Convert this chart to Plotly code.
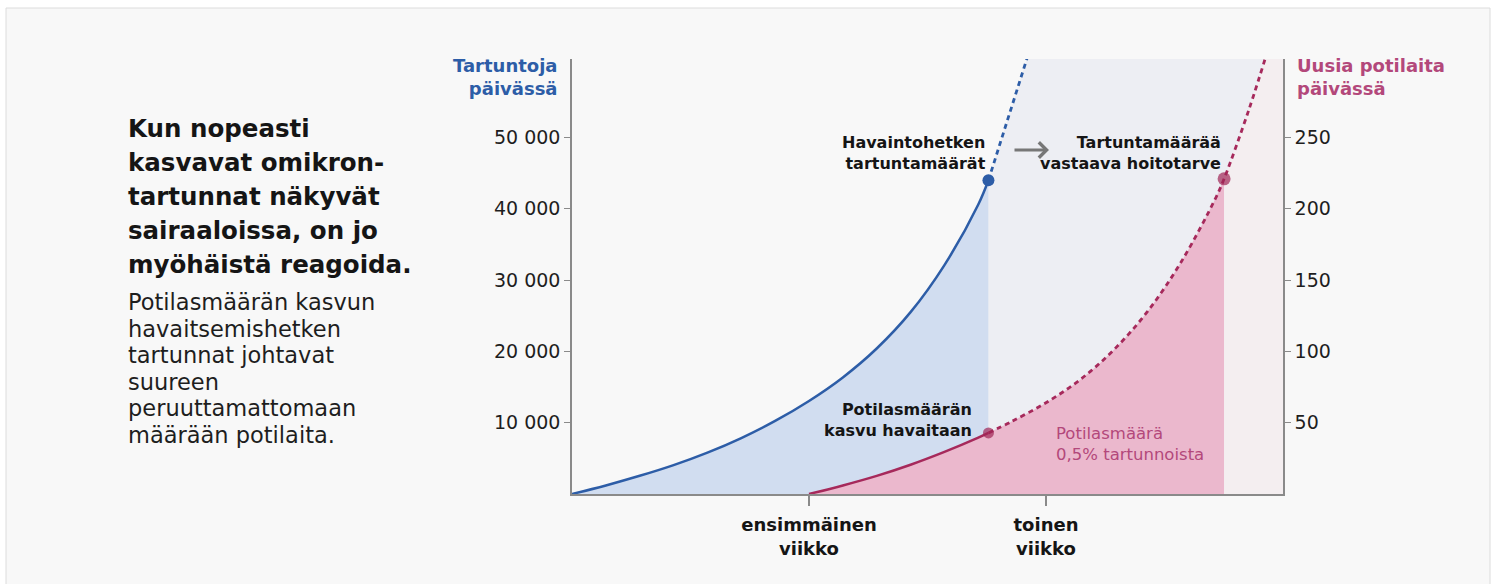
import plotly.graph_objects as go

# ---------------- data ----------------
blue_days = [0, 1, 2, 3, 4, 5, 6, 7, 8, 9, 10, 11, 12, 12.3]
blue_vals = [0, 1200, 2550, 4050, 5800, 7850, 10250, 13050, 16350, 20400, 25500, 32100, 40600, 44000]
blue_dash_days = [12.3, 13, 13.7]
blue_dash_vals = [44000, 54500, 65000]

red_days = [7, 8, 9, 10, 11, 12, 12.3]
red_vals = [0, 6, 12.7, 20.5, 29.5, 39.5, 42.8]
red_dash_days = [12.3, 13, 14, 15, 16, 17, 18, 19, 19.26, 20, 20.6]
red_dash_vals = [42.8, 51, 64, 80, 101, 128, 163, 207, 221, 270, 315]

x_tickvals = [7, 14]
x_ticktext = ["ensimmäinen<br>viikko", "toinen<br>viikko"]
left_tickvals = [10000, 20000, 30000, 40000, 50000]
left_ticktext = ["10 000", "20 000", "30 000", "40 000", "50 000"]
right_tickvals = [50, 100, 150, 200, 250]
right_ticktext = ["50", "100", "150", "200", "250"]

title_lines = ["Kun nopeasti", "kasvavat omikron-", "tartunnat näkyvät",
               "sairaaloissa, on jo", "myöhäistä reagoida."]
body_lines = ["Potilasmäärän kasvun", "havaitsemishetken", "tartunnat johtavat",
              "suureen", "peruuttamattomaan", "määrään potilaita."]

# ---------------- style ----------------
FONT = "DejaVu Sans"
BLUE = "#2d5da7"
BLUE_FILL = "#d1ddf0"
RED = "#a6295b"
RED_MARK = "#9f2555"
PINK_FILL = "#ebb8cd"
PINK_TEXT = "#b3487b"
GRAY_REGION = "#edeef3"
LIGHT_PINK = "#f4eef0"
AXIS = "#8a8a8a"
TXT = "#151515"

Y_MAX = 61000
Y2_MAX = 305
X_MAX = 21

L, R, T, B = 572, 1283, 59, 494


def px(x):
    return (x - L) / (R - L)


def py(y):
    return (B - y) / (B - T)


fig = go.Figure()

# gray region to the right of the infection curve (after detection)
gx = [blue_dash_days[0]] + blue_dash_days + [X_MAX, X_MAX]
gy = [0] + blue_dash_vals + [blue_dash_vals[-1], 0]
fig.add_trace(go.Scatter(x=gx, y=gy, mode="lines", fill="toself",
                         fillcolor=GRAY_REGION, line=dict(width=0),
                         hoverinfo="skip", showlegend=False))

# blue area + line
fig.add_trace(go.Scatter(x=blue_days, y=blue_vals, mode="lines",
                         line=dict(color=BLUE, width=2.5, shape="spline", smoothing=1),
                         fill="tozeroy", fillcolor=BLUE_FILL,
                         hoverinfo="skip", showlegend=False))
fig.add_trace(go.Scatter(x=blue_dash_days, y=blue_dash_vals, mode="lines",
                         line=dict(color=BLUE, width=2.8, dash="5px,4px"),
                         hoverinfo="skip", showlegend=False))
fig.add_trace(go.Scatter(x=[blue_days[-1]], y=[blue_vals[-1]], mode="markers",
                         marker=dict(color=BLUE, size=12, line=dict(width=0)),
                         cliponaxis=False, hoverinfo="skip", showlegend=False))

# red (patients) on right axis
i_end = red_dash_days.index(19.26)
pk_x = red_days + red_dash_days[1:i_end + 1]
pk_y = red_vals + red_dash_vals[1:i_end + 1]
fig.add_trace(go.Scatter(x=pk_x, y=pk_y, mode="lines", yaxis="y2",
                         line=dict(width=0, shape="spline", smoothing=1),
                         fill="tozeroy", fillcolor=PINK_FILL,
                         hoverinfo="skip", showlegend=False))
lp_x = [red_dash_days[i_end]] + red_dash_days[i_end:] + [X_MAX, X_MAX]
lp_y = [0] + red_dash_vals[i_end:] + [red_dash_vals[-1], 0]
fig.add_trace(go.Scatter(x=lp_x, y=lp_y, mode="lines", yaxis="y2", fill="toself",
                         fillcolor=LIGHT_PINK, line=dict(width=0),
                         hoverinfo="skip", showlegend=False))
fig.add_trace(go.Scatter(x=red_days, y=red_vals, mode="lines", yaxis="y2",
                         line=dict(color=RED, width=2.5, shape="spline", smoothing=1),
                         hoverinfo="skip", showlegend=False))
fig.add_trace(go.Scatter(x=red_dash_days, y=red_dash_vals, mode="lines", yaxis="y2",
                         line=dict(color=RED, width=2.8, dash="5px,4px",
                                   shape="spline", smoothing=1),
                         hoverinfo="skip", showlegend=False))
fig.add_trace(go.Scatter(x=[red_days[-1], red_dash_days[i_end]],
                         y=[red_vals[-1], red_dash_vals[i_end]], mode="markers",
                         yaxis="y2", marker=dict(color=RED_MARK, size=[11, 13], line=dict(width=0)),
                         cliponaxis=False, hoverinfo="skip", showlegend=False))

annotations = []


def ann(text, x, y, xanchor, size, color=TXT, weight=700, align="left"):
    annotations.append(dict(text=text, x=px(x), y=py(y), xref="paper", yref="paper",
                            xanchor=xanchor, yanchor="middle", showarrow=False,
                            align=align,
                            font=dict(family=FONT, size=size, color=color, weight=weight)))


def block(lines, glyph_px):
    return "<br>".join(f"<span style='font-size:{glyph_px}px'>{s}</span>" for s in lines)


# left text: base size controls line spacing (1.3 em), spans control glyph size
ann(block(title_lines, 24.5), 126, 196, "left", 34 / 1.3)
ann(block(body_lines, 22.5), 126, 368, "left", 26.6 / 1.3, color="#1e1e1e", weight=400)

ann("Tartuntoja<br>päivässä", 560, 77, "right", 18, color=BLUE, align="right")
ann("Uusia potilaita<br>päivässä", 1295, 77, "left", 18, color=PINK_TEXT, align="left")
ann("Havaintohetken<br>tartuntamäärät", 988, 153, "right", 16, align="right")
ann("Tartuntamäärää<br>vastaava hoitotarve", 1223, 153, "right", 16, align="right")
ann("Potilasmäärän<br>kasvu havaitaan", 974, 420, "right", 16, align="right")
ann("Potilasmäärä<br>0,5% tartunnoista", 1054, 444, "left", 16.5, color=PINK_TEXT,
    weight=400, align="left")

annotations.append(dict(text="", x=px(1049), y=py(150), xref="paper", yref="paper",
                        ax=-36, ay=0, showarrow=True, arrowhead=4, arrowsize=1,
                        arrowwidth=3, arrowcolor="#777777"))

fig.update_layout(
    width=1498, height=584,
    margin=dict(l=L, r=1498 - R, t=T, b=584 - B, pad=0),
    paper_bgcolor="white",
    plot_bgcolor="rgba(0,0,0,0)",
    font=dict(family=FONT, color=TXT),
    showlegend=False,
    annotations=annotations,
    shapes=[dict(type="rect", xref="paper", yref="paper",
                 x0=px(6), x1=px(1490), y0=py(600), y1=py(8),
                 fillcolor="#f8f8f8", line=dict(color="#dcdcdc", width=1),
                 layer="below")],
    xaxis=dict(range=[0, X_MAX], showgrid=False, zeroline=False,
               showline=True, linecolor=AXIS, linewidth=1.5,
               tickmode="array", tickvals=x_tickvals, ticktext=x_ticktext,
               ticks="outside", ticklen=10, tickcolor=AXIS, tickwidth=1.5,
               ticklabelstandoff=4,
               tickfont=dict(family=FONT, size=18, color=TXT, weight=700)),
    yaxis=dict(range=[0, Y_MAX], showgrid=False, zeroline=False,
               showline=True, linecolor=AXIS, linewidth=1.5,
               tickmode="array", tickvals=left_tickvals, ticktext=left_ticktext,
               ticks="outside", ticklen=6, tickcolor=AXIS, tickwidth=1.2,
               tickfont=dict(family=FONT, size=19, color="#1e1e1e")),
    yaxis2=dict(range=[0, Y2_MAX], overlaying="y", side="right", showgrid=False,
                zeroline=False, showline=True, linecolor=AXIS, linewidth=1.5,
                tickmode="array", tickvals=right_tickvals, ticktext=right_ticktext,
                ticks="outside", ticklen=6, tickcolor=AXIS, tickwidth=1.2,
                tickfont=dict(family=FONT, size=19, color="#1e1e1e")),
)

fig.write_html("out.html", config={"displayModeBar": False},
               post_script="document.body.style.margin='0px';")
